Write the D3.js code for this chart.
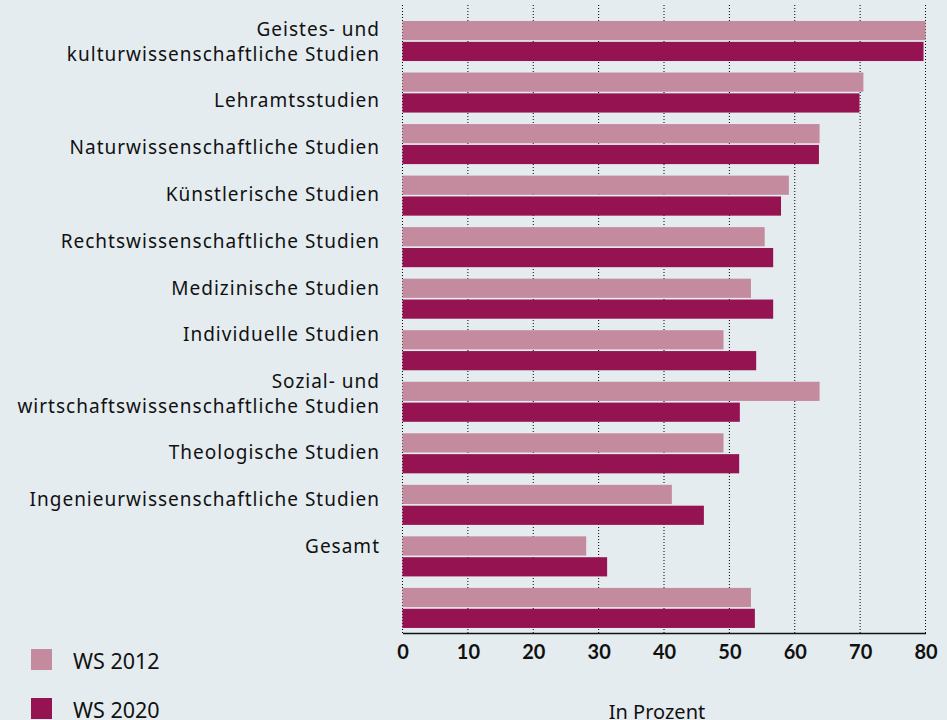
<!DOCTYPE html>
<html>
<head>
<meta charset="utf-8">
<script src="https://cdn.jsdelivr.net/npm/d3@7"></script>
<style>
  html, body { margin: 0; padding: 0; background: #e4ecf0; }
  svg { display: block; font-family: "Noto Sans", Lato, sans-serif; }
</style>
</head>
<body>
<svg id="chart" width="947" height="720"></svg>
<script>
// ---- data ----
const categories = [
  "Geistes- und\nkulturwissenschaftliche Studien",
  "Lehramtsstudien",
  "Naturwissenschaftliche Studien",
  "Künstlerische Studien",
  "Rechtswissenschaftliche Studien",
  "Medizinische Studien",
  "Individuelle Studien",
  "Sozial- und\nwirtschaftswissenschaftliche Studien",
  "Theologische Studien",
  "Ingenieurwissenschaftliche Studien",
  "Gesamt",
  ""
];
const seriesNames = ["WS 2012", "WS 2020"];
const ws2012 = [80.0, 70.5, 63.8, 59.1, 55.4, 53.3, 49.1, 63.8, 49.1, 41.2, 28.1, 53.3];
const ws2020 = [79.7, 69.9, 63.7, 57.9, 56.7, 56.7, 54.1, 51.6, 51.5, 46.1, 31.3, 53.9];
const xTicks = [0, 10, 20, 30, 40, 50, 60, 70, 80];
const axisTitle = "In Prozent";
const colors = ["#c48a9e", "#941350"];

(function () {
// ---- layout ----
const svg = d3.select("#chart");
const pLeft = 402.5, pRight = 925.5, pTop = 5, pBottom = 633;

const x = d3.scaleLinear().domain([0, 80]).range([pLeft, pRight]);
const y = d3.scaleBand().domain(d3.range(categories.length))
  .range([pTop, pBottom]).paddingInner(0.223).paddingOuter(0.204).align(0.76);
const ySub = d3.scaleBand().domain(seriesNames).range([0, y.bandwidth()]).paddingInner(0.08);
const color = d3.scaleOrdinal().domain(seriesNames).range(colors);

// grid
svg.append("g").selectAll("line").data(xTicks).join("line")
  .attr("x1", d => x(d)).attr("x2", d => x(d))
  .attr("y1", pTop).attr("y2", pBottom)
  .attr("stroke", "#000").attr("stroke-width", 1)
  .attr("stroke-dasharray", "1,2");

// bars
const rows = categories.map((c, i) => ({ i, values: [ws2012[i], ws2020[i]] }));
const g = svg.append("g").selectAll("g").data(rows).join("g")
  .attr("transform", d => `translate(0,${y(d.i)})`);
g.selectAll("rect").data(d => d.values.map((v, k) => ({ s: seriesNames[k], v })))
  .join("rect")
  .attr("x", x(0))
  .attr("y", d => ySub(d.s))
  .attr("width", d => x(d.v) - x(0))
  .attr("height", ySub.bandwidth())
  .attr("fill", d => color(d.s));

// x axis
const xAxis = d3.axisBottom(x).tickValues(xTicks).tickSize(0).tickPadding(12);
const ax = svg.append("g").attr("transform", `translate(0,${pBottom})`).call(xAxis);
ax.select(".domain").attr("stroke", "#111").attr("stroke-width", 1.6);
ax.selectAll("text").attr("font-size", 20).attr("font-weight", "bold")
  .attr("fill", "#111").attr("font-family", "Lato, sans-serif");

svg.append("text").attr("x", 657).attr("y", 719).attr("text-anchor", "middle")
  .attr("font-size", 20).attr("fill", "#111").text(axisTitle);

// category labels (stacked text blocks)
const lineH = 24.5, blockGap = 46.8;
let base = 36;
const labelG = svg.append("g");
categories.forEach(c => {
  if (!c) return;
  const lines = c.split("\n");
  const t = labelG.append("text").attr("text-anchor", "end")
    .attr("font-size", 19).attr("letter-spacing", 1).attr("fill", "#111");
  lines.forEach((ln, k) => {
    t.append("tspan").attr("x", 380).attr("y", base + k * lineH).text(ln);
  });
  base += (lines.length - 1) * lineH + blockGap;
});

// legend
const leg = svg.append("g").selectAll("g").data(seriesNames).join("g")
  .attr("transform", (d, i) => `translate(31,${649 + i * 49})`);
leg.append("rect").attr("width", 21).attr("height", 21).attr("fill", d => color(d));
leg.append("text").attr("x", 42).attr("y", 20).attr("font-size", 21.5)
  .attr("fill", "#111").text(d => d);
})();
</script>
</body>
</html>
